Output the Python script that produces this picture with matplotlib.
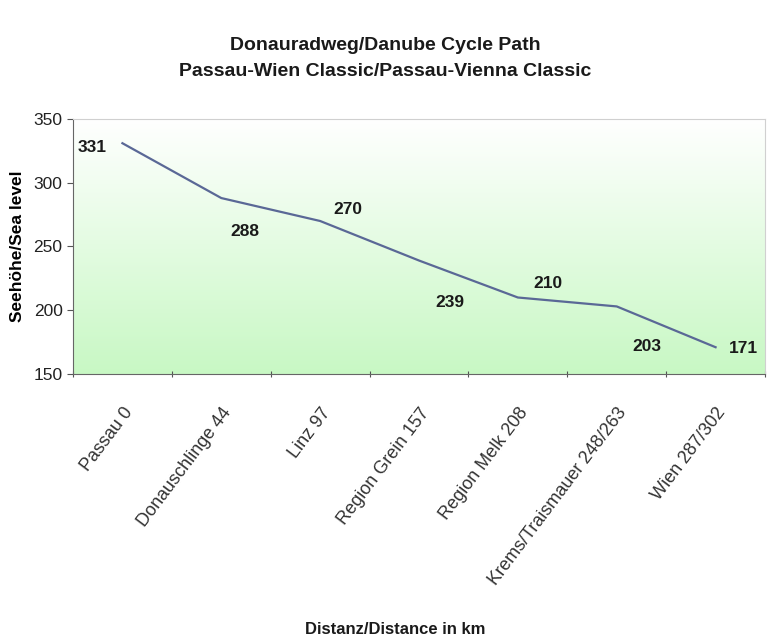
import matplotlib
matplotlib.use("Agg")
import matplotlib.pyplot as plt
import numpy as np
from matplotlib.colors import LinearSegmentedColormap

categories = ["Passau 0", "Donauschlinge 44", "Linz 97", "Region Grein 157",
              "Region Melk 208", "Krems/Traismauer 248/263", "Wien 287/302"]
elevation = [331, 288, 270, 239, 210, 203, 171]
yticks = [150, 200, 250, 300, 350]

FONT = ["Liberation Sans Narrow", "Liberation Sans", "DejaVu Sans"]
plt.rcParams['font.family'] = FONT

fig = plt.figure(figsize=(7.71, 6.43), dpi=100)
ax = fig.add_axes([73/771, 1-374/643, 692/771, 255/643])

x = np.arange(len(categories))
ax.set_xlim(-0.5, len(categories) - 0.5)
ax.set_ylim(150, 350)

# gradient background: light green at bottom, white at top
cmap = LinearSegmentedColormap.from_list("g", ["#ffffff", "#c8f8c4"])
grad = np.linspace(1, 0, 256).reshape(-1, 1)
ax.imshow(grad, cmap=cmap, aspect="auto", extent=[-0.5, len(categories) - 0.5, 150, 350],
          zorder=0, origin="lower", vmin=0, vmax=1)

ax.plot(x, elevation, color="#5a6896", lw=1.6, zorder=3)

offsets = [(-22, -3), (17, -24), (20, 8), (22, -30), (22, 10), (22, -29), (20, -1)]
for xi, v, (dx, dy) in zip(x, elevation, offsets):
    ax.annotate(str(v), (xi, v), xytext=(dx, dy), textcoords="offset points",
                ha="center", va="center", fontsize=12.5, fontweight="bold", color="#1a1a1a", zorder=4)

ax.set_xticks(np.arange(-0.5, len(categories) + 0.5, 1))
ax.set_xticklabels([])
ax.set_xticks(x, minor=True)
ax.set_xticklabels(categories, minor=True, rotation=53, ha="right", rotation_mode="anchor",
                   fontsize=13, color="#333333")
ax.tick_params(axis="x", which="minor", length=0, pad=22)
ax.tick_params(axis="x", which="major", length=5, direction="inout", color="#555555")
ax.set_yticks(yticks)
ax.tick_params(axis="y", length=4, direction="out", labelsize=12.5, color="#555555", labelcolor="#222222")

for s in ["left", "bottom"]:
    ax.spines[s].set_color("#666666")
for s in ["top", "right"]:
    ax.spines[s].set_color("#d0d0d0")

ax.set_ylabel("Seehöhe/Sea level", fontsize=12.5, fontweight="bold", labelpad=6,
              fontfamily=["Liberation Sans", "DejaVu Sans"])
fig.text(395/771, 1-630/643, "Distanz/Distance in km", ha="center", va="center",
         fontsize=12, fontweight="bold", color="#1a1a1a")
fig.text(385/771, 1-45/643, "Donauradweg/Danube Cycle Path", ha="center", va="center",
         fontsize=14, fontweight="bold", color="#1a1a1a")
fig.text(385/771, 1-71/643, "Passau-Wien Classic/Passau-Vienna Classic", ha="center", va="center",
         fontsize=14, fontweight="bold", color="#1a1a1a")

fig.savefig("out.png", dpi=100)
